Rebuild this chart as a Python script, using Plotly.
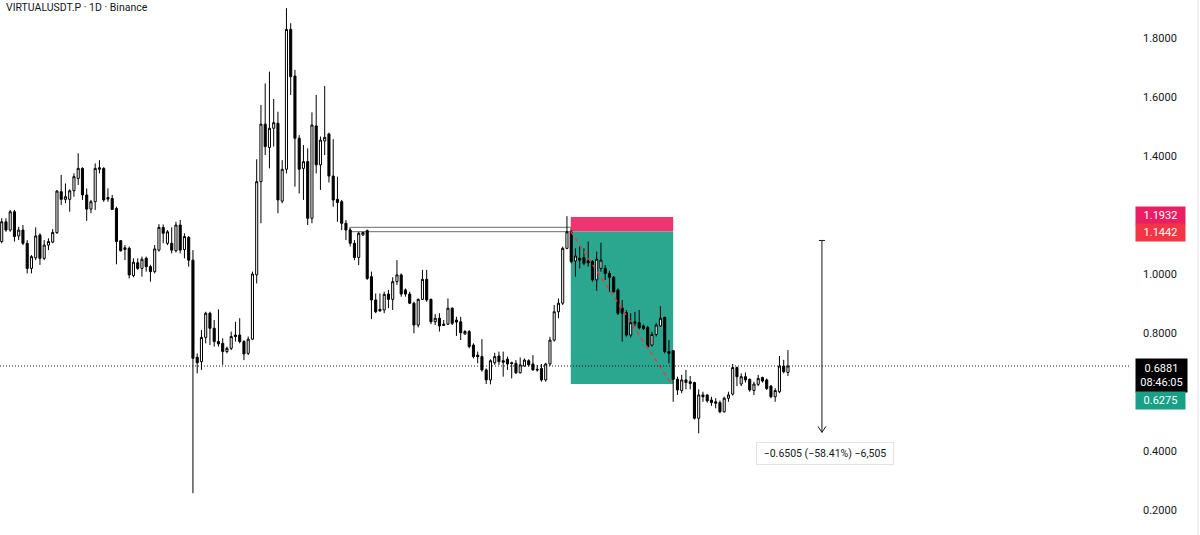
import plotly.graph_objects as go

# ---------------- data ----------------
opens = [1.110, 1.177, 1.149, 1.211, 1.129, 1.149, 1.104, 1.019, 1.055, 1.132,
         1.053, 1.098, 1.108, 1.140, 1.279, 1.253, 1.253, 1.282, 1.324, 1.358,
         1.268, 1.220, 1.245, 1.355, 1.358, 1.259, 1.256, 1.222, 1.113, 1.083,
         1.087, 0.995, 1.038, 1.019, 1.053, 1.025, 1.008, 1.081, 1.158, 1.104,
         1.104, 1.079, 1.166, 1.083, 1.124, 1.047, 0.718, 0.703, 0.785, 0.867,
         0.816, 0.771, 0.765, 0.737, 0.748, 0.793, 0.793, 0.771, 0.731, 0.779,
         0.997, 1.313, 1.508, 1.429, 1.494, 1.511, 1.247, 1.355, 1.829, 1.671,
         1.460, 1.358, 1.381, 1.189, 1.502, 1.370, 1.451, 1.475, 1.332, 1.253,
         1.245, 1.172, 1.149, 1.104, 1.056, 1.132, 1.147, 0.991, 0.912, 0.880,
         0.878, 0.932, 0.914, 0.974, 0.997, 0.946, 0.932, 0.901, 0.827, 0.914,
         0.982, 0.914, 0.838, 0.850, 0.830, 0.830, 0.884, 0.844, 0.838, 0.797,
         0.805, 0.759, 0.725, 0.720, 0.675, 0.641, 0.699, 0.722, 0.706, 0.711,
         0.699, 0.697, 0.665, 0.688, 0.706, 0.695, 0.677, 0.680, 0.641, 0.695,
         0.776, 0.872, 0.901, 1.087, 1.143, 1.044, 1.053, 1.056, 1.045, 1.042,
         0.980, 1.019, 1.019, 1.002, 0.989, 0.946, 0.884, 0.869, 0.793, 0.838,
         0.835, 0.824, 0.819, 0.759, 0.795, 0.824, 0.853, 0.737, 0.740, 0.643,
         0.605, 0.641, 0.635, 0.632, 0.511, 0.590, 0.590, 0.573, 0.567, 0.564,
         0.533, 0.579, 0.593, 0.683, 0.627, 0.652, 0.643, 0.605, 0.626, 0.649,
         0.641, 0.620, 0.584, 0.601, 0.688, 0.666]
highs = [1.189, 1.189, 1.217, 1.217, 1.160, 1.166, 1.115, 1.064, 1.158, 1.138,
         1.115, 1.121, 1.152, 1.285, 1.336, 1.307, 1.287, 1.341, 1.409, 1.362,
         1.290, 1.251, 1.375, 1.386, 1.362, 1.290, 1.268, 1.228, 1.115, 1.098,
         1.093, 1.053, 1.053, 1.059, 1.059, 1.031, 1.098, 1.169, 1.168, 1.149,
         1.158, 1.177, 1.183, 1.138, 1.129, 1.081, 0.731, 0.810, 0.872, 0.872,
         0.844, 0.880, 0.782, 0.754, 0.805, 0.838, 0.850, 0.776, 0.788, 1.008,
         1.389, 1.573, 1.646, 1.686, 1.593, 1.550, 1.386, 1.901, 1.850, 1.692,
         1.471, 1.437, 1.426, 1.548, 1.607, 1.466, 1.637, 1.479, 1.457, 1.330,
         1.251, 1.183, 1.155, 1.115, 1.143, 1.143, 1.151, 1.008, 0.934, 0.934,
         0.940, 0.946, 0.989, 1.047, 1.002, 0.951, 0.940, 0.906, 0.917, 1.014,
         1.014, 0.917, 0.864, 0.867, 0.844, 0.917, 0.887, 0.855, 0.855, 0.810,
         0.810, 0.765, 0.737, 0.779, 0.680, 0.711, 0.733, 0.737, 0.737, 0.720,
         0.703, 0.708, 0.717, 0.714, 0.711, 0.725, 0.692, 0.695, 0.699, 0.787,
         0.895, 0.917, 1.093, 1.196, 1.149, 1.087, 1.093, 1.087, 1.110, 1.047,
         1.076, 1.106, 1.030, 1.011, 0.993, 0.951, 0.912, 0.878, 0.867, 0.872,
         0.878, 0.829, 0.824, 0.804, 0.833, 0.891, 0.855, 0.776, 0.742, 0.652,
         0.658, 0.675, 0.654, 0.635, 0.609, 0.601, 0.592, 0.584, 0.579, 0.571,
         0.584, 0.601, 0.695, 0.686, 0.663, 0.666, 0.646, 0.635, 0.658, 0.652,
         0.646, 0.624, 0.613, 0.722, 0.709, 0.742]
lows = [1.104, 1.143, 1.143, 1.110, 1.115, 1.098, 1.002, 1.002, 1.047, 1.031,
        1.047, 1.081, 1.104, 1.136, 1.234, 1.240, 1.211, 1.262, 1.302, 1.251,
        1.180, 1.206, 1.217, 1.341, 1.245, 1.245, 1.217, 1.033, 1.076, 1.047,
        0.985, 0.989, 1.014, 0.991, 1.008, 0.974, 1.002, 1.076, 1.104, 1.098,
        1.070, 1.073, 1.070, 1.053, 1.025, 0.257, 0.663, 0.675, 0.765, 0.759,
        0.754, 0.754, 0.692, 0.731, 0.742, 0.771, 0.765, 0.708, 0.725, 0.776,
        0.968, 1.172, 1.403, 1.358, 1.432, 1.206, 1.240, 1.341, 1.607, 1.296,
        1.273, 1.251, 1.166, 1.172, 1.341, 1.285, 1.403, 1.310, 1.228, 1.177,
        1.149, 1.115, 1.093, 1.047, 1.030, 1.130, 0.980, 0.847, 0.867, 0.872,
        0.867, 0.884, 0.878, 0.963, 0.923, 0.923, 0.898, 0.799, 0.819, 0.912,
        0.906, 0.830, 0.827, 0.805, 0.824, 0.827, 0.827, 0.790, 0.776, 0.793,
        0.748, 0.714, 0.697, 0.669, 0.627, 0.626, 0.692, 0.692, 0.652, 0.675,
        0.646, 0.661, 0.663, 0.686, 0.686, 0.672, 0.669, 0.635, 0.635, 0.688,
        0.771, 0.850, 0.895, 1.084, 1.036, 0.991, 1.019, 1.030, 1.025, 0.974,
        0.943, 1.008, 0.980, 0.940, 0.937, 0.861, 0.771, 0.788, 0.785, 0.824,
        0.812, 0.810, 0.748, 0.754, 0.788, 0.821, 0.731, 0.697, 0.567, 0.590,
        0.596, 0.609, 0.609, 0.507, 0.460, 0.567, 0.564, 0.553, 0.545, 0.528,
        0.530, 0.567, 0.588, 0.620, 0.620, 0.632, 0.601, 0.590, 0.620, 0.632,
        0.607, 0.579, 0.567, 0.596, 0.663, 0.654]
closes = [1.177, 1.149, 1.211, 1.127, 1.149, 1.104, 1.019, 1.059, 1.129, 1.053,
          1.098, 1.110, 1.141, 1.281, 1.253, 1.262, 1.282, 1.330, 1.358, 1.268,
          1.220, 1.245, 1.358, 1.360, 1.251, 1.254, 1.219, 1.110, 1.079, 1.089,
          0.997, 1.040, 1.019, 1.050, 1.025, 1.008, 1.085, 1.158, 1.138, 1.143,
          1.081, 1.166, 1.081, 1.127, 1.047, 0.714, 0.699, 0.785, 0.867, 0.816,
          0.771, 0.763, 0.737, 0.748, 0.788, 0.788, 0.771, 0.729, 0.779, 1.000,
          1.313, 1.508, 1.432, 1.494, 1.513, 1.251, 1.355, 1.829, 1.669, 1.460,
          1.355, 1.381, 1.189, 1.505, 1.370, 1.454, 1.463, 1.332, 1.251, 1.242,
          1.172, 1.149, 1.104, 1.056, 1.138, 1.141, 0.985, 0.912, 0.872, 0.875,
          0.931, 0.914, 0.974, 0.997, 0.932, 0.932, 0.901, 0.827, 0.914, 0.982,
          0.912, 0.838, 0.850, 0.824, 0.826, 0.884, 0.833, 0.837, 0.801, 0.805,
          0.754, 0.720, 0.720, 0.675, 0.641, 0.706, 0.720, 0.703, 0.701, 0.695,
          0.697, 0.665, 0.692, 0.708, 0.692, 0.675, 0.675, 0.641, 0.695, 0.776,
          0.872, 0.901, 1.087, 1.143, 1.042, 1.061, 1.047, 1.036, 1.038, 0.980,
          1.050, 1.047, 1.002, 0.989, 0.940, 0.867, 0.867, 0.793, 0.835, 0.833,
          0.818, 0.815, 0.754, 0.795, 0.827, 0.850, 0.737, 0.731, 0.643, 0.607,
          0.641, 0.632, 0.629, 0.511, 0.590, 0.584, 0.570, 0.564, 0.562, 0.533,
          0.579, 0.590, 0.683, 0.652, 0.652, 0.641, 0.607, 0.627, 0.646, 0.637,
          0.612, 0.584, 0.605, 0.688, 0.669, 0.6881]
bar_index = list(range(len(closes)))

# ticks shown on the price scale (1.2 and 0.6 are hidden behind the price labels)
tick_values = [0.2, 0.4, 0.8, 1.0, 1.4, 1.6, 1.8]
tick_labels = ["0.2000", "0.4000", "0.8000", "1.0000", "1.4000", "1.6000", "1.8000"]

# drawings
zone_top, zone_bottom = 1.1583, 1.1434          # grey double line zone
zone_from_bar, zone_to_bar = 81.9, 133.9
entry_price, stop_price, target_price = 1.1442, 1.1932, 0.6275
position_from_bar, position_to_bar = 133.9, 158.0
measure_from, measure_to = 1.1137, 0.4632
measure_bar = 193.0
countdown = "08:46:05"
title_text = "VIRTUALUSDT.P · 1D · Binance"

# ---------------- figure ----------------
W, H = 1200, 535
RIGHT = 70
FONT = "Roboto"
TXT = "#131722"

fig = go.Figure()
fig.add_trace(go.Candlestick(
    x=bar_index, open=opens, high=highs, low=lows, close=closes,
    increasing=dict(line=dict(color="#000000", width=1), fillcolor="#ffffff"),
    decreasing=dict(line=dict(color="#000000", width=1), fillcolor="#000000"),
    hoverinfo="skip", showlegend=False,
))

shapes = []
# grey zone lines
shapes.append(dict(type="rect", xref="x", yref="y", x0=zone_from_bar, x1=zone_to_bar,
                   y0=zone_bottom, y1=zone_top, line=dict(color="#6b6b6b", width=1),
                   fillcolor="rgba(0,0,0,0)", layer="below"))
# short position: stop (red) and target (green) areas
shapes.append(dict(type="rect", xref="x", yref="y", x0=position_from_bar, x1=position_to_bar,
                   y0=entry_price, y1=stop_price, line=dict(width=0),
                   fillcolor="#ee3571", layer="below"))
shapes.append(dict(type="rect", xref="x", yref="y", x0=position_from_bar, x1=position_to_bar,
                   y0=target_price, y1=entry_price, line=dict(width=0),
                   fillcolor="#2ba68f", layer="below"))
shapes.append(dict(type="line", xref="x", yref="y", x0=position_from_bar, x1=position_to_bar - 0.4,
                   y0=entry_price, y1=target_price,
                   line=dict(color="#f23645", width=1.5, dash="4px,4px"), layer="above"))
# last price dotted line
shapes.append(dict(type="line", xref="paper", yref="y", x0=0, x1=1,
                   y0=closes[-1], y1=closes[-1],
                   line=dict(color="#131722", width=1, dash="1px,2px"), layer="above"))
# measurement arrow
shapes.append(dict(type="line", xref="x", yref="y", x0=measure_bar, x1=measure_bar,
                   y0=measure_from, y1=measure_to, line=dict(color="#131722", width=1)))
shapes.append(dict(type="line", xref="x", yref="y", xsizemode="pixel", xanchor=measure_bar,
                   x0=-3, x1=3, y0=measure_from, y1=measure_from,
                   line=dict(color="#131722", width=1)))
shapes.append(dict(type="path", xref="x", yref="y", xsizemode="pixel", ysizemode="pixel",
                   xanchor=measure_bar, yanchor=measure_to,
                   path="M-4,6 L0,0 L4,6", line=dict(color="#131722", width=1)))
# right panel edge
shapes.append(dict(type="line", xref="paper", yref="paper", x0=1198 / (W - RIGHT),
                   x1=1198 / (W - RIGHT), y0=0, y1=1,
                   line=dict(color="#e0e3eb", width=1)))

diff = measure_to - measure_from
pct = diff / measure_from * 100
ticks_n = round(diff * 10000)
measure_text = ("\u2212%.4f (\u2212%.2f%%) \u2212%s" %
                (abs(diff), abs(pct), f"{abs(ticks_n):,}"))

annotations = [
    dict(text=title_text, xref="paper", yref="paper", x=0, y=1, xanchor="left",
         yanchor="top", xshift=4, yshift=1, showarrow=False,
         font=dict(family=FONT, size=10.5, color=TXT)),
    dict(text=measure_text, xref="x", yref="y", x=measure_bar, y=measure_to,
         xanchor="center", yanchor="top", xshift=3, yshift=-10, showarrow=False, width=128,
         bgcolor="#ffffff", bordercolor="#e0e3eb", borderwidth=1, borderpad=4,
         font=dict(family=FONT, size=10.5, color=TXT)),
]

def price_label(val, text, bg, yshift, pad=2):
    return dict(text=text, xref="paper", yref="y", x=1, y=val, xanchor="left",
                yanchor="middle", xshift=5, yshift=yshift, showarrow=False,
                bgcolor=bg, borderpad=pad, width=45, align="center",
                font=dict(family=FONT, size=11, color="#ffffff"))

annotations += [
    price_label(stop_price, "%.4f" % stop_price, "#e91e63", 2),
    price_label(entry_price, "%.4f" % entry_price, "#f23645", -1),
    price_label(closes[-1], "%.4f<br>%s" % (closes[-1], countdown), "#000000", -9, pad=3),
    price_label(target_price, "%.4f" % target_price, "#17a086", -17),
]

px_per_bar = 4.25
x_start = -1.7 / px_per_bar
x_end = x_start + (W - RIGHT) / px_per_bar
y_top = 1.8 + 38 / 295
y_bottom = 1.8 - (H - 38) / 295

fig.update_layout(
    width=W, height=H,
    margin=dict(l=0, r=RIGHT, t=0, b=0, autoexpand=False),
    paper_bgcolor="#ffffff", plot_bgcolor="#ffffff",
    shapes=shapes, annotations=annotations,
    xaxis=dict(visible=False, range=[x_start, x_end], rangeslider=dict(visible=False),
               fixedrange=True),
    yaxis=dict(side="right", range=[y_bottom, y_top], tickvals=tick_values,
               ticktext=tick_labels, showgrid=False, zeroline=False, showline=False,
               ticks="", ticklabelstandoff=12, automargin=False,
               tickfont=dict(family=FONT, size=11, color=TXT), fixedrange=True),
    font=dict(family=FONT),
    showlegend=False,
)

fig.write_html("out.html", config={"displayModeBar": False},
               post_script="document.body.style.margin='0';document.body.style.overflow='hidden';")
